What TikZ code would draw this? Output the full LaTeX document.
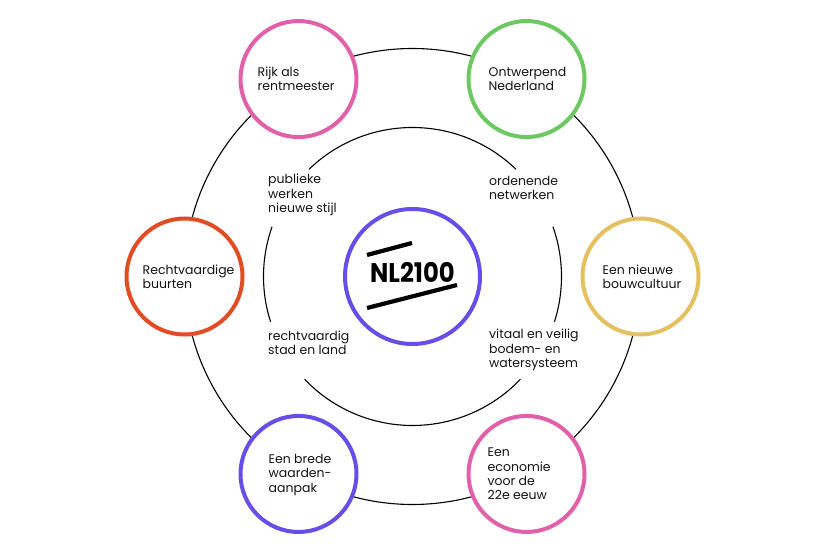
\documentclass[tikz,border=0pt]{standalone}
\usepackage{fontspec}
\setmainfont{Poppins}
\definecolor{pinkc}{RGB}{226,96,170}
\definecolor{greenc}{RGB}{108,200,96}
\definecolor{orangec}{RGB}{226,76,36}
\definecolor{yellowc}{RGB}{228,192,96}
\definecolor{purplec}{RGB}{104,78,232}
\definecolor{txtc}{RGB}{20,20,20}
\begin{document}
\begin{tikzpicture}[x=1pt,y=-1pt,
  ring/.style={draw=black, line width=1.1pt},
  topic/.style={circle, draw, line width=4pt, fill=white, minimum size=116pt, inner sep=0pt},
  txt/.style={align=left, anchor=west, inner sep=0pt, text=txtc, font=\fontsize{12.5}{14.3}\selectfont},
  bar/.style={line width=4.2pt, draw=black}]
\useasboundingbox (0,0) rectangle (830,553);
\coordinate (c) at (412.5,276.5);
% outer ring
\draw[ring] (c) circle[radius=228];
% inner ring arcs (screen angles negated because y points down)
\draw[ring] ([shift={(c)}]-46:149) arc[start angle=-46, end angle=-134, radius=149];
\draw[ring] ([shift={(c)}]-160.5:149) arc[start angle=-160.5, end angle=-197.7, radius=149];
\draw[ring] ([shift={(c)}]-223.6:149) arc[start angle=-223.6, end angle=-316.4, radius=149];
\draw[ring] ([shift={(c)}]17.7:149) arc[start angle=17.7, end angle=-19.5, radius=149];
% topic circles
\node[topic, draw=pinkc]   (rijk)  at ([shift={(c)}]-120:228) {};
\node[topic, draw=greenc]  (ontw)  at ([shift={(c)}]-60:228) {};
\node[topic, draw=orangec] (recht) at ([shift={(c)}]180:228) {};
\node[topic, draw=yellowc] (bouw)  at ([shift={(c)}]0:228) {};
\node[topic, draw=purplec] (breed) at ([shift={(c)}]120:228) {};
\node[topic, draw=pinkc]   (econ)  at ([shift={(c)}]60:228) {};
\node[txt] (trijk)  at ([xshift=-41pt]rijk.center)  {Rijk als\\rentmeester};
\node[txt] (tontw)  at ([xshift=-38pt]ontw.center)  {Ontwerpend\\Nederland};
\node[txt] (trecht) at ([xshift=-42pt]recht.center) {Rechtvaardige\\buurten};
\node[txt] (tbouw)  at ([xshift=-38pt]bouw.center)  {Een nieuwe\\bouwcultuur};
\node[txt] (tbreed) at ([xshift=-30pt,yshift=-1pt]breed.center) {Een brede\\waarden-\\aanpak};
\node[txt] (tecon)  at ([xshift=-39pt]econ.center)  {Een\\economie\\voor de\\22e eeuw};
% inner labels
\node[txt] (pub)  at (268,195) {publieke\\werken\\nieuwe stijl};
\node[txt] (orde) at (489,188) {ordenende\\netwerken};
\node[txt] (rsl)  at (268,342.5) {rechtvaardig\\stad en land};
\node[txt] (vit)  at (489,350) {vitaal en veilig\\bodem- en\\watersysteem};
% centre
\node[circle, draw=purplec, line width=4pt, fill=white, minimum size=135pt, inner sep=0pt] (nl) at (c) {};
\node[inner sep=0pt, font=\fontsize{27}{30}\selectfont\bfseries] (logo) at (412.5,272) {\scalebox{0.9}[1]{NL2100}};
\coordinate (b1s) at (367,255);
\coordinate (b1e) at (412,243);
\coordinate (b2s) at (367,308);
\coordinate (b2e) at (457,285);
\draw[bar] (b1s) -- (b1e);
\draw[bar] (b2s) -- (b2e);
\end{tikzpicture}
\end{document}
